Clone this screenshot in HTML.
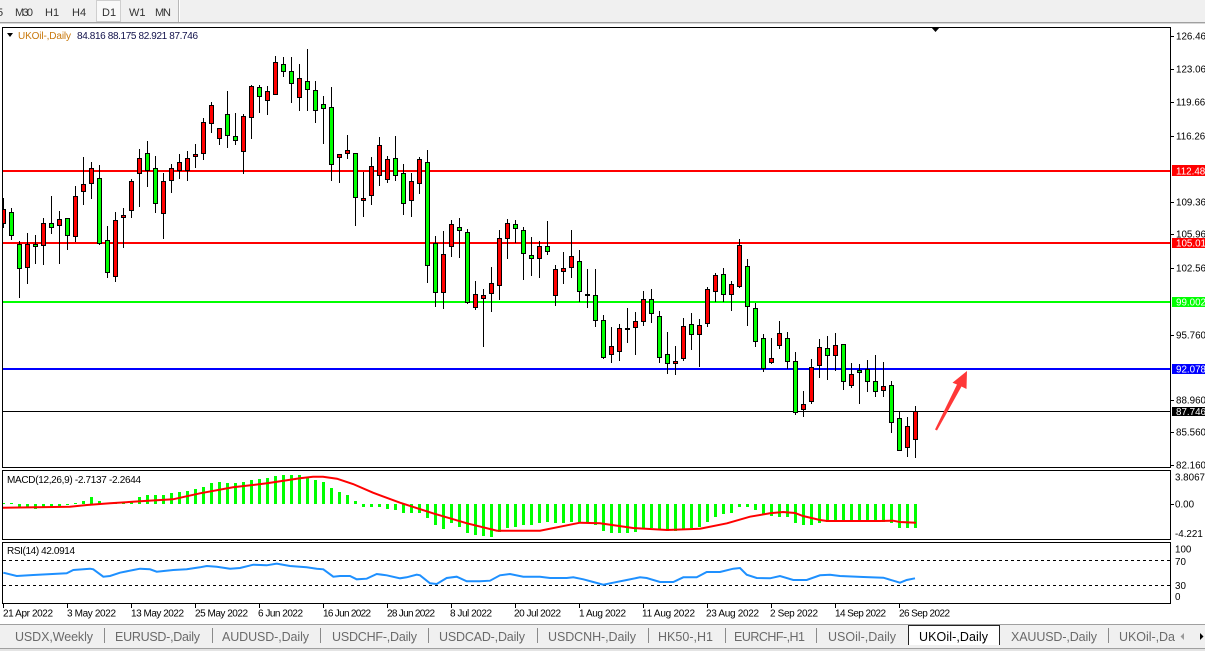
<!DOCTYPE html>
<html><head><meta charset="utf-8"><style>
html,body{margin:0;padding:0;background:#fff;width:1205px;height:651px;overflow:hidden}
svg{display:block}
</style></head><body>
<svg width="1205" height="651" viewBox="0 0 1205 651" xmlns="http://www.w3.org/2000/svg" font-family="'Liberation Sans', sans-serif">
<rect width="1205" height="651" fill="#fff"/>
<!-- toolbar -->
<rect x="0" y="0" width="1205" height="22" fill="#f0f0f0"/>
<rect x="96.5" y="0.5" width="24" height="21" fill="#f9f9f9" stroke="#cfcfcf"/>
<rect x="178" y="0" width="1" height="22" fill="#b8b8b8"/>
<rect x="179" y="0" width="1" height="22" fill="#ffffff"/>
<rect x="0" y="22" width="1205" height="1" fill="#a0a0a0"/>
<rect x="0" y="23" width="1205" height="1" fill="#d8d8d8"/>
<g font-size="11" fill="#333">
<text x="-3" y="16">5</text>
<text x="15" y="16" textLength="18">M30</text>
<text x="45" y="16">H1</text>
<text x="72" y="16">H4</text>
<text x="102" y="16">D1</text>
<text x="129" y="16">W1</text>
<text x="155" y="16" textLength="16">MN</text>
</g>

<!-- main panel content -->
<defs><clipPath id="cm"><rect x="3" y="28" width="1167" height="439"/></clipPath></defs>
<g clip-path="url(#cm)">
<rect x="3" y="170" width="1167" height="2" fill="#ff0000"/>
<rect x="3" y="242" width="1167" height="2" fill="#ff0000"/>
<rect x="3" y="301" width="1167" height="2" fill="#00ff00"/>
<rect x="3" y="368" width="1167" height="2" fill="#0000ff"/>
<rect x="3" y="411" width="1167" height="1" fill="#000"/>
<path fill="none" stroke="#000" stroke-width="1" d="M3.5 198V228M11.5 208V240M19.5 241V298M27.5 233V284M35.5 235V264M43.5 218V265M51.5 196V234M59.5 211V264M67.5 218V250M75.5 186V242M83.5 157V205M91.5 162V199M99.5 165V245M107.5 226V278M115.5 212V282M123.5 208V248M131.5 179V218M139.5 149V207M147.5 141V187M155.5 156V213M163.5 173V239M171.5 164V193M179.5 154V179M187.5 151V181M195.5 144V168M203.5 118V160M211.5 102V133M219.5 128V145M227.5 91V148M235.5 113V145M243.5 114V174M251.5 85V139M259.5 85V113M267.5 86V115M275.5 56V95M283.5 57V77M291.5 57V103M299.5 64V111M307.5 49V111M315.5 81V123M323.5 96V144M331.5 87V181M339.5 154V183M347.5 135V159M355.5 153V226M363.5 172V217M371.5 157V205M379.5 137V186M387.5 156V183M395.5 136V181M403.5 164V215M411.5 173V217M419.5 157V194M427.5 150V283M435.5 236V307M443.5 231V309M451.5 220V257M459.5 218V258M467.5 229V304M475.5 281V310M483.5 289V347M491.5 267V312M499.5 230V300M507.5 219V259M515.5 220V243M523.5 227V280M531.5 237V276M539.5 241V278M547.5 221V255M555.5 265V306M563.5 252V284M571.5 230V278M579.5 250V302M587.5 269V308M595.5 269V327M603.5 315V359M611.5 327V363M619.5 324V361M627.5 308V343M635.5 312V355M643.5 291V326M651.5 289V323M659.5 311V363M667.5 332V374M675.5 346V375M683.5 318V361M691.5 313V350M699.5 319V367M707.5 287V327M715.5 273V302M723.5 268V302M731.5 281V311M739.5 239V288M747.5 259V326M755.5 303V347M763.5 334V372M771.5 338V364M779.5 321V349M787.5 332V369M795.5 352V415M803.5 391V417M811.5 359V404M819.5 339V378M827.5 336V380M835.5 333V371M843.5 344V390M851.5 363V388M859.5 364V404M867.5 360V392M875.5 355V397M883.5 362V397M891.5 381V433M899.5 412V451M907.5 417V457M915.5 406V458"/>
<g fill="#00ff00" stroke="#000" stroke-width="1">
<rect x="9.5" y="212.5" width="4" height="23"/>
<rect x="17.5" y="244.5" width="4" height="24"/>
<rect x="33.5" y="244.5" width="4" height="2"/>
<rect x="49.5" y="223.5" width="4" height="4"/>
<rect x="65.5" y="218.5" width="4" height="17"/>
<rect x="97.5" y="178.5" width="4" height="65"/>
<rect x="105.5" y="240.5" width="4" height="32"/>
<rect x="145.5" y="153.5" width="4" height="17"/>
<rect x="153.5" y="168.5" width="4" height="35"/>
<rect x="225.5" y="114.5" width="4" height="21"/>
<rect x="233.5" y="136.5" width="4" height="4"/>
<rect x="257.5" y="87.5" width="4" height="9"/>
<rect x="281.5" y="64.5" width="4" height="7"/>
<rect x="289.5" y="71.5" width="4" height="12"/>
<rect x="305.5" y="81.5" width="4" height="8"/>
<rect x="313.5" y="90.5" width="4" height="20"/>
<rect x="321.5" y="104.5" width="4" height="4"/>
<rect x="329.5" y="107.5" width="4" height="57"/>
<rect x="353.5" y="153.5" width="4" height="44"/>
<rect x="393.5" y="158.5" width="4" height="17"/>
<rect x="401.5" y="173.5" width="4" height="30"/>
<rect x="425.5" y="162.5" width="4" height="103"/>
<rect x="433.5" y="243.5" width="4" height="49"/>
<rect x="457.5" y="227.5" width="4" height="3"/>
<rect x="465.5" y="232.5" width="4" height="70"/>
<rect x="513.5" y="224.5" width="4" height="4"/>
<rect x="521.5" y="230.5" width="4" height="23"/>
<rect x="529.5" y="255.5" width="4" height="3"/>
<rect x="545.5" y="246.5" width="4" height="5"/>
<rect x="577.5" y="261.5" width="4" height="30"/>
<rect x="593.5" y="295.5" width="4" height="25"/>
<rect x="601.5" y="320.5" width="4" height="37"/>
<rect x="649.5" y="299.5" width="4" height="14"/>
<rect x="657.5" y="316.5" width="4" height="41"/>
<rect x="665.5" y="354.5" width="4" height="9"/>
<rect x="689.5" y="324.5" width="4" height="10"/>
<rect x="721.5" y="274.5" width="4" height="20"/>
<rect x="745.5" y="266.5" width="4" height="40"/>
<rect x="753.5" y="308.5" width="4" height="33"/>
<rect x="761.5" y="338.5" width="4" height="30"/>
<rect x="785.5" y="338.5" width="4" height="23"/>
<rect x="793.5" y="361.5" width="4" height="51"/>
<rect x="825.5" y="348.5" width="4" height="7"/>
<rect x="841.5" y="344.5" width="4" height="37"/>
<rect x="857.5" y="370.5" width="4" height="2"/>
<rect x="865.5" y="369.5" width="4" height="12"/>
<rect x="873.5" y="381.5" width="4" height="10"/>
<rect x="889.5" y="385.5" width="4" height="37"/>
<rect x="897.5" y="418.5" width="4" height="32"/>
</g>
<g fill="#ff0000" stroke="#000" stroke-width="1">
<rect x="1.5" y="209.5" width="4" height="14"/>
<rect x="25.5" y="244.5" width="4" height="23"/>
<rect x="41.5" y="223.5" width="4" height="22"/>
<rect x="57.5" y="219.5" width="4" height="6"/>
<rect x="73.5" y="196.5" width="4" height="40"/>
<rect x="81.5" y="184.5" width="4" height="7"/>
<rect x="89.5" y="168.5" width="4" height="15"/>
<rect x="113.5" y="220.5" width="4" height="56"/>
<rect x="121.5" y="215.5" width="4" height="2"/>
<rect x="129.5" y="181.5" width="4" height="29"/>
<rect x="137.5" y="158.5" width="4" height="15"/>
<rect x="161.5" y="181.5" width="4" height="32"/>
<rect x="169.5" y="168.5" width="4" height="12"/>
<rect x="177.5" y="162.5" width="4" height="8"/>
<rect x="185.5" y="158.5" width="4" height="12"/>
<rect x="193.5" y="154.5" width="4" height="2"/>
<rect x="201.5" y="122.5" width="4" height="31"/>
<rect x="209.5" y="105.5" width="4" height="18"/>
<rect x="217.5" y="128.5" width="4" height="10"/>
<rect x="241.5" y="116.5" width="4" height="35"/>
<rect x="249.5" y="86.5" width="4" height="31"/>
<rect x="265.5" y="91.5" width="4" height="9"/>
<rect x="273.5" y="62.5" width="4" height="32"/>
<rect x="297.5" y="78.5" width="4" height="19"/>
<rect x="337.5" y="154.5" width="4" height="3"/>
<rect x="345.5" y="150.5" width="4" height="3"/>
<rect x="361.5" y="198.5" width="4" height="2"/>
<rect x="369.5" y="166.5" width="4" height="29"/>
<rect x="377.5" y="145.5" width="4" height="30"/>
<rect x="385.5" y="159.5" width="4" height="20"/>
<rect x="409.5" y="181.5" width="4" height="19"/>
<rect x="417.5" y="159.5" width="4" height="24"/>
<rect x="441.5" y="254.5" width="4" height="38"/>
<rect x="449.5" y="224.5" width="4" height="22"/>
<rect x="473.5" y="294.5" width="4" height="13"/>
<rect x="481.5" y="295.5" width="4" height="3"/>
<rect x="489.5" y="283.5" width="4" height="10"/>
<rect x="497.5" y="238.5" width="4" height="47"/>
<rect x="505.5" y="223.5" width="4" height="15"/>
<rect x="537.5" y="246.5" width="4" height="12"/>
<rect x="553.5" y="269.5" width="4" height="26"/>
<rect x="561.5" y="268.5" width="4" height="3"/>
<rect x="569.5" y="256.5" width="4" height="11"/>
<rect x="585.5" y="294.5" width="4" height="1"/>
<rect x="609.5" y="346.5" width="4" height="8"/>
<rect x="617.5" y="328.5" width="4" height="23"/>
<rect x="625.5" y="328.5" width="4" height="1"/>
<rect x="633.5" y="321.5" width="4" height="6"/>
<rect x="641.5" y="299.5" width="4" height="22"/>
<rect x="673.5" y="361.5" width="4" height="2"/>
<rect x="681.5" y="326.5" width="4" height="32"/>
<rect x="697.5" y="325.5" width="4" height="9"/>
<rect x="705.5" y="289.5" width="4" height="34"/>
<rect x="713.5" y="275.5" width="4" height="16"/>
<rect x="729.5" y="284.5" width="4" height="10"/>
<rect x="737.5" y="245.5" width="4" height="41"/>
<rect x="769.5" y="358.5" width="4" height="4"/>
<rect x="777.5" y="333.5" width="4" height="12"/>
<rect x="801.5" y="404.5" width="4" height="5"/>
<rect x="809.5" y="367.5" width="4" height="34"/>
<rect x="817.5" y="347.5" width="4" height="18"/>
<rect x="833.5" y="345.5" width="4" height="10"/>
<rect x="849.5" y="374.5" width="4" height="11"/>
<rect x="881.5" y="386.5" width="4" height="4"/>
<rect x="905.5" y="426.5" width="4" height="21"/>
<rect x="913.5" y="411.5" width="4" height="28"/>
</g>
<!-- arrow -->
<polygon points="935,429.5 957,384.5 952.5,382.7 967,371 966.5,389 961.5,386.5 937,430.5" fill="#ff3838"/>
<!-- shift marker -->
<polygon points="931,27 940,27 935.5,32" fill="#000"/>
</g>

<!-- title -->
<polygon points="7,33 13,33 10,37" fill="#000"/>
<text x="18" y="39" font-size="10" fill="#c8780c" textLength="53">UKOil-,Daily</text>
<text x="77" y="39" font-size="10" fill="#10104a" textLength="121">84.816 88.175 82.921 87.746</text>

<!-- MACD -->
<defs><clipPath id="cd"><rect x="3" y="471" width="1167" height="68"/></clipPath></defs>
<g clip-path="url(#cd)">
<path fill="none" stroke="#00ff00" stroke-width="3" d="M3.5 504V503M11.5 504V503M19.5 504V507M27.5 504V508M35.5 504V509M43.5 504V508M51.5 504V507M59.5 504V507M67.5 504V505M75.5 504V503M83.5 504V501M91.5 504V497M99.5 504V501M107.5 504V503M115.5 504V503M123.5 504V502M131.5 504V501M139.5 504V497M147.5 504V495M155.5 504V495M163.5 504V495M171.5 504V493M179.5 504V492M187.5 504V491M195.5 504V489M203.5 504V487M211.5 504V483M219.5 504V482M227.5 504V483M235.5 504V483M243.5 504V482M251.5 504V480M259.5 504V479M267.5 504V478M275.5 504V476M283.5 504V475M291.5 504V475M299.5 504V475M307.5 504V477M315.5 504V480M323.5 504V482M331.5 504V488M339.5 504V492M347.5 504V495M355.5 504V501M363.5 504V507M371.5 504V507M379.5 504V507M387.5 504V509M395.5 504V510M403.5 504V513M411.5 504V513M419.5 504V513M427.5 504V518M435.5 504V525M443.5 504V529M451.5 504V523M459.5 504V527M467.5 504V533M475.5 504V535M483.5 504V536M491.5 504V537M499.5 504V532M507.5 504V528M515.5 504V527M523.5 504V525M531.5 504V525M539.5 504V523M547.5 504V522M555.5 504V523M563.5 504V523M571.5 504V522M579.5 504V522M587.5 504V522M595.5 504V525M603.5 504V531M611.5 504V533M619.5 504V533M627.5 504V533M635.5 504V532M643.5 504V528M651.5 504V528M659.5 504V530M667.5 504V531M675.5 504V531M683.5 504V530M691.5 504V528M699.5 504V527M707.5 504V522M715.5 504V517M723.5 504V514M731.5 504V513M739.5 504V507M747.5 504V507M755.5 504V510M763.5 504V514M771.5 504V516M779.5 504V517M787.5 504V517M795.5 504V523M803.5 504V525M811.5 504V525M819.5 504V523M827.5 504V522M835.5 504V522M843.5 504V522M851.5 504V522M859.5 504V522M867.5 504V522M875.5 504V522M883.5 504V522M891.5 504V523M899.5 504V528M907.5 504V528M915.5 504V528"/>
<polyline fill="none" stroke="#ff0000" stroke-width="2" points="3,507.7 70,506.7 87,505 110,503.3 140,501.3 173,499.3 200,493.3 233,487.3 267,483.3 300,478.3 313,476.7 323,476.7 337,478.7 353,484 373,492.7 400,502.7 433,513.3 467,523.3 497,530.7 540,530.7 580,522.7 600,523.3 633,528 667,530 700,528.7 727,523.3 750,516.7 770,513.3 783,512 795,513 803,516 820,520 827,521 880,521 893,520.7 900,522 916,522.7"/>
</g>
<text x="7" y="483" font-size="10" fill="#000" textLength="134">MACD(12,26,9) -2.7137 -2.2644</text>

<!-- RSI -->
<line x1="3" y1="560.5" x2="1170" y2="560.5" stroke="#000" stroke-width="1" stroke-dasharray="3,3"/>
<line x1="3" y1="585.5" x2="1170" y2="585.5" stroke="#000" stroke-width="1" stroke-dasharray="3,3"/>
<polyline fill="none" stroke="#1e90ff" stroke-width="2" points="3.3,572.7 16.7,576 33.3,575 66.7,573.3 73.3,570 90,568.7 93.3,569.3 103.3,576.7 110,576 120,572.7 133.3,570 140,568.7 150,569.3 156.7,571.7 173.3,570 186.7,569.3 200,567.3 206.7,566 216.7,566.7 230,568.7 240,568 253.3,564.7 266.7,565.3 276.7,563.7 290,566 306.7,567.3 316.7,568.7 323.3,569.3 333.3,576.7 340,576 350,576 356.7,579.3 366.7,578.7 376.7,574 386.7,575.3 400,578.3 406.7,577.3 416.7,574.7 420,575.3 430,583.3 436.7,584 446.7,578 456.7,576.7 466.7,581.3 480,581.3 490,580.7 500,575.3 510,574 523.3,576.7 540,576.7 550,578 566.7,578 573.3,577.3 583.3,579.3 593.3,582 603.3,584.7 613.3,582.7 626.7,580 640,577.3 646.7,578 660,582 673.3,582 683.3,577.3 696.7,577.3 706.7,572 720,572 733.3,568.7 740,568 746.7,574.7 756.7,578 770,578.3 780,576 793.3,580 806.7,580 820,575.3 830,574.7 840,576 863.3,577 883.3,577.7 893.3,580.7 900,582.7 906.7,580 915,578.3"/>
<text x="7" y="554" font-size="10" fill="#000" textLength="68">RSI(14) 42.0914</text>

<!-- frames -->
<g fill="none" stroke="#000" stroke-width="1">
<rect x="2.5" y="27.5" width="1168" height="440"/>
<rect x="2.5" y="470.5" width="1168" height="69"/>
<rect x="2.5" y="542.5" width="1168" height="61"/>
</g>

<!-- right axis ticks -->
<path stroke="#000" stroke-width="1" d="M1171 36.5H1174M1171 69.5H1174M1171 102.5H1174M1171 136.5H1174M1171 202.5H1174M1171 234.5H1174M1171 268.5H1174M1171 335.5H1174M1171 400.5H1174M1171 432.5H1174M1171 465.5H1174M1171 504.5H1174"/>
<g font-size="9.8" fill="#000">
<text x="1176" y="39.5">126.460</text>
<text x="1176" y="72.5">123.060</text>
<text x="1176" y="105.5">119.660</text>
<text x="1176" y="139.5">116.260</text>
<text x="1176" y="205.5">109.360</text>
<text x="1176" y="237.5">105.960</text>
<text x="1176" y="271.5">102.560</text>
<text x="1176" y="338.5">95.760</text>
<text x="1176" y="403.5">88.960</text>
<text x="1176" y="435.5">85.560</text>
<text x="1176" y="468.5">82.160</text>
<text x="1175" y="480.5">3.8067</text>
<text x="1175" y="507.5">0.00</text>
<text x="1175" y="537">-4.221</text>
<text x="1175" y="552.5">100</text>
<text x="1175" y="565">70</text>
<text x="1175" y="589">30</text>
<text x="1175" y="600">0</text>
</g>
<rect x="1172" y="165" width="33" height="11" fill="#ff0000"/>
<rect x="1172" y="238" width="33" height="10" fill="#ff0000"/>
<rect x="1172" y="297" width="33" height="10" fill="#00ff00"/>
<rect x="1172" y="364" width="33" height="10" fill="#0000ff"/>
<rect x="1172" y="407" width="33" height="9" fill="#000"/>
<g font-size="9.8" fill="#fff">
<text x="1176" y="174.5">112.480</text>
<text x="1176" y="246.5">105.015</text>
<text x="1176" y="305.5">99.002</text>
<text x="1176" y="372.5">92.078</text>
<text x="1176" y="415">87.746</text>
</g>

<!-- date axis -->
<path stroke="#000" stroke-width="1" d="M3.5 604V608M67.5 604V608M131.5 604V608M195.5 604V608M259.5 604V608M323.5 604V608M387.5 604V608M451.5 604V608M515.5 604V608M579.5 604V608M643.5 604V608M707.5 604V608M771.5 604V608M835.5 604V608M899.5 604V608"/>
<g font-size="10" fill="#000">
<text x="3" y="616.5" textLength="50">21 Apr 2022</text>
<text x="67" y="616.5" textLength="49">3 May 2022</text>
<text x="131" y="616.5" textLength="53">13 May 2022</text>
<text x="195" y="616.5" textLength="53">25 May 2022</text>
<text x="258" y="616.5" textLength="45">6 Jun 2022</text>
<text x="323" y="616.5" textLength="48">16 Jun 2022</text>
<text x="387" y="616.5" textLength="48">28 Jun 2022</text>
<text x="450" y="616.5" textLength="42">8 Jul 2022</text>
<text x="514" y="616.5" textLength="47">20 Jul 2022</text>
<text x="579" y="616.5" textLength="47">1 Aug 2022</text>
<text x="642" y="616.5" textLength="53">11 Aug 2022</text>
<text x="706" y="616.5" textLength="53">23 Aug 2022</text>
<text x="770" y="616.5" textLength="48">2 Sep 2022</text>
<text x="835" y="616.5" textLength="51">14 Sep 2022</text>
<text x="899" y="616.5" textLength="51">26 Sep 2022</text>
</g>

<!-- tab bar -->
<rect x="0" y="624" width="1205" height="1" fill="#a0a0a0"/>
<rect x="0" y="625" width="1205" height="23" fill="#f0f0f0"/>
<rect x="0" y="648" width="1205" height="1" fill="#a0a0a0"/>
<rect x="0" y="649" width="1205" height="2" fill="#e4e4e4"/>
<path d="M908.5 645V625.5H999.5V645" fill="#fff" stroke="#222" stroke-width="1"/>
<path stroke="#8a8a8a" stroke-width="1" d="M104.5 628V643M212.5 628V643M320.5 628V643M428.5 628V643M537.5 628V643M648.5 628V643M725.5 628V643M816.5 628V643M1108.5 628V643"/>
<g font-size="12.5" fill="#6a6a6a">
<text x="15" y="641" textLength="78">USDX,Weekly</text>
<text x="115" y="641" textLength="85">EURUSD-,Daily</text>
<text x="222" y="641" textLength="87">AUDUSD-,Daily</text>
<text x="332" y="641" textLength="85">USDCHF-,Daily</text>
<text x="439" y="641" textLength="86">USDCAD-,Daily</text>
<text x="548" y="641" textLength="88">USDCNH-,Daily</text>
<text x="658" y="641" textLength="55">HK50-,H1</text>
<text x="734" y="641" textLength="71">EURCHF-,H1</text>
<text x="828" y="641" textLength="68">USOil-,Daily</text>
<text x="1011" y="641" textLength="86">XAUUSD-,Daily</text>
<text x="1119" y="641" textLength="56">UKOil-,Da</text>
</g>
<text x="919" y="641" font-size="12.5" fill="#000" textLength="69">UKOil-,Daily</text>
<polygon points="1184,633 1184,640 1180.5,636.5" fill="#9a9a9a"/>
<polygon points="1200,633 1200,640 1203.5,636.5" fill="#000"/>
</svg>
</body></html>
